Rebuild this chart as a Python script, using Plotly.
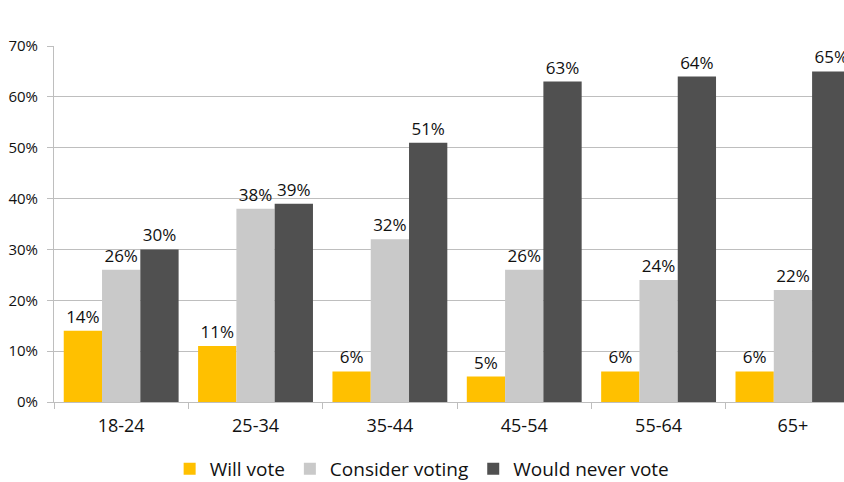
import plotly.graph_objects as go

age_groups = ["18-24", "25-34", "35-44", "45-54", "55-64", "65+"]
will_vote = [14, 11, 6, 5, 6, 6]
consider_voting = [26, 38, 32, 26, 24, 22]
never_vote = [30, 39, 51, 63, 64, 65]
y_ticks = [0, 10, 20, 30, 40, 50, 60, 70]

series = [
    ("Will vote", will_vote, "#FFC000"),
    ("Consider voting", consider_voting, "#C9C9C9"),
    ("Would never vote", never_vote, "#505050"),
]

fig = go.Figure()
for name, vals, color in series:
    fig.add_trace(go.Bar(
        name=name,
        x=age_groups,
        y=vals,
        marker=dict(color=color, line=dict(width=0)),
        text=[f"{v}%" for v in vals],
        textposition="outside",
        textfont=dict(family="Open Sans", size=17, color="#111111"),
        cliponaxis=False,
    ))

fig.update_layout(
    width=844,
    height=482,
    margin=dict(l=54, r=0, t=46, b=80, autoexpand=False),
    barmode="group",
    bargap=0.145,
    bargroupgap=0,
    plot_bgcolor="white",
    paper_bgcolor="white",
    font=dict(family="Open Sans", color="#111111"),
    showlegend=True,
    legend=dict(
        orientation="h",
        x=0.466, xanchor="center",
        yref="container", y=0.027, yanchor="middle",
        font=dict(size=19),
        itemwidth=30,
        traceorder="normal",
    ),
    uniformtext=dict(mode=False),
)

fig.update_xaxes(
    range=[-0.5, 5.38],
    showline=True, linecolor="#BEBEBE", linewidth=1,
    ticks="outside", ticklen=6, tickcolor="#BEBEBE",
    tickson="boundaries",
    ticklabelstandoff=7,
    tickfont=dict(size=18),
    showgrid=False,
    automargin=False,
)

fig.update_yaxes(
    range=[0, 70],
    tickvals=y_ticks,
    ticktext=[f"{v}%" for v in y_ticks],
    showline=True, linecolor="#BEBEBE", linewidth=1,
    ticks="outside", ticklen=6, tickcolor="#BEBEBE",
    ticklabelstandoff=6,
    showgrid=True, gridcolor="#BEBEBE", gridwidth=1,
    tickfont=dict(size=15),
    zeroline=False,
    automargin=False,
)

fig.write_html("out.html")
